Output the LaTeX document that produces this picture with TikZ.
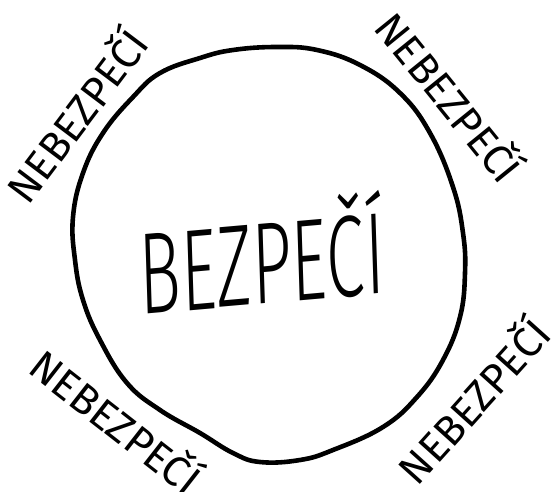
\documentclass[tikz,border=0pt]{standalone}
\usepackage{fontspec}
\newfontfamily\handlight{Fira Sans Light}
\newfontfamily\handreg{Fira Sans}
\begin{document}
\begin{tikzpicture}[x=1pt,y=-1pt,
  ring/.style={line width=4.6pt, line join=round},
  danger/.style={font=\handreg\fontsize{42}{42}\selectfont, text height=29pt, text depth=0pt, inner sep=0pt},
  safe/.style={font=\handlight\fontsize{116}{116}\selectfont, text height=80pt, text depth=0pt, inner sep=0pt, xscale=0.6}]
\useasboundingbox[fill=white] (0,0) rectangle (552,491);
\draw[ring] plot[smooth cycle, tension=0.7] coordinates {
 (277,47) (317,50) (360,65) (400,93) (430,133) (453,187) (463,233) (465,273)
 (460,317) (443,360) (417,397) (383,427) (333,450) (300,460) (260,462) (233,453)
 (200,433) (160,410) (127,383) (100,340) (83,300) (75,260) (73,217) (83,173)
 (103,133) (133,97) (160,73) (200,58) (233,50)};
\node[safe, rotate=3] (safe) at (262,264) {BEZPEČÍ};
\node[danger, rotate=53] (tl) at (78,117) {NEBEZPEČÍ};
\node[danger, rotate=-51] (tr) at (448,98) {NEBEZPEČÍ};
\node[danger, rotate=-38] (bl) at (115,423) {NEBEZPEČÍ};
\node[danger, rotate=48] (br) at (475,402) {NEBEZPEČÍ};
\end{tikzpicture}
\end{document}
